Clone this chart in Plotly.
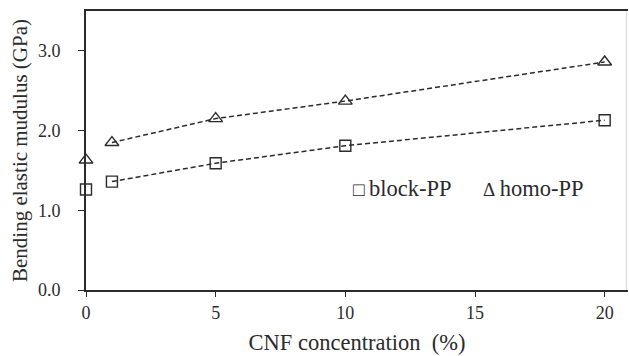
import plotly.graph_objects as go

# CNF loading (%) and bending elastic modulus (GPa)
cnf = [0, 1, 5, 10, 20]
block_pp = [1.26, 1.36, 1.59, 1.81, 2.13]
homo_pp = [1.63, 1.85, 2.15, 2.37, 2.86]

x_ticks = [0, 5, 10, 15, 20]
y_ticks = [0.0, 1.0, 2.0, 3.0]
y_tick_text = ["0.0", "1.0", "2.0", "3.0"]

ink = "#2b2b2b"
font_family = "Liberation Serif, Times New Roman, serif"

fig = go.Figure()

# dashed trend lines over the filled composites
for ys in (block_pp, homo_pp):
    fig.add_trace(go.Scatter(
        x=cnf[1:], y=ys[1:], mode="lines",
        line=dict(color=ink, width=1.5, dash="5px,3px"),
        showlegend=False, hoverinfo="skip", cliponaxis=False,
    ))

fig.add_trace(go.Scatter(
    x=cnf, y=block_pp, mode="markers", name="block-PP", showlegend=False,
    marker=dict(symbol="square-open", size=11, color=ink, line=dict(width=1.4, color=ink)),
    cliponaxis=False,
))
fig.add_trace(go.Scatter(
    x=cnf, y=homo_pp, mode="markers", name="homo-PP", showlegend=False,
    marker=dict(symbol="triangle-up-open", size=12, color=ink, line=dict(width=1.4, color=ink)),
    cliponaxis=False,
))

# inline key
fig.add_annotation(x=10.2, y=1.27, xref="x", yref="y", xanchor="left", yanchor="middle",
                   text="<span style='font-size:19px'>□</span>\u2009block-PP", showarrow=False,
                   font=dict(size=22.5, color=ink))
fig.add_annotation(x=15.25, y=1.27, xref="x", yref="y", xanchor="left", yanchor="middle",
                   text="<span style='font-size:19px'>Δ</span>\u2009homo-PP", showarrow=False,
                   font=dict(size=22.5, color=ink))

# faint right frame edge
fig.add_shape(type="line", xref="paper", yref="paper", x0=0.997, x1=0.997, y0=0, y1=1,
              line=dict(color="#d8d8d8", width=1))

fig.update_layout(
    width=629, height=356,
    margin=dict(l=86, r=1, t=11, b=66),
    paper_bgcolor="white", plot_bgcolor="white",
    font=dict(family=font_family, size=18, color=ink),
    showlegend=False,
    xaxis=dict(
        range=[0, 20.9], tickvals=x_ticks, ticks="outside", ticklen=5,
        tickcolor=ink, showline=True, linecolor=ink, linewidth=2, mirror=True,
        showgrid=False, zeroline=False,
        title=dict(text="CNF concentration  (%)", font=dict(size=22.5), standoff=13),
        tickfont=dict(size=18),
    ),
    yaxis=dict(
        range=[0, 3.5], tickvals=y_ticks, ticktext=y_tick_text, ticks="outside",
        ticklen=6, tickcolor=ink, showline=True, linecolor=ink, linewidth=2,
        showgrid=False, zeroline=False, ticklabelstandoff=14,
        title=dict(text="Bending elastic mudulus (GPa)", font=dict(size=21), standoff=5),
        tickfont=dict(size=18),
    ),
)

fig.write_html("out.html")
